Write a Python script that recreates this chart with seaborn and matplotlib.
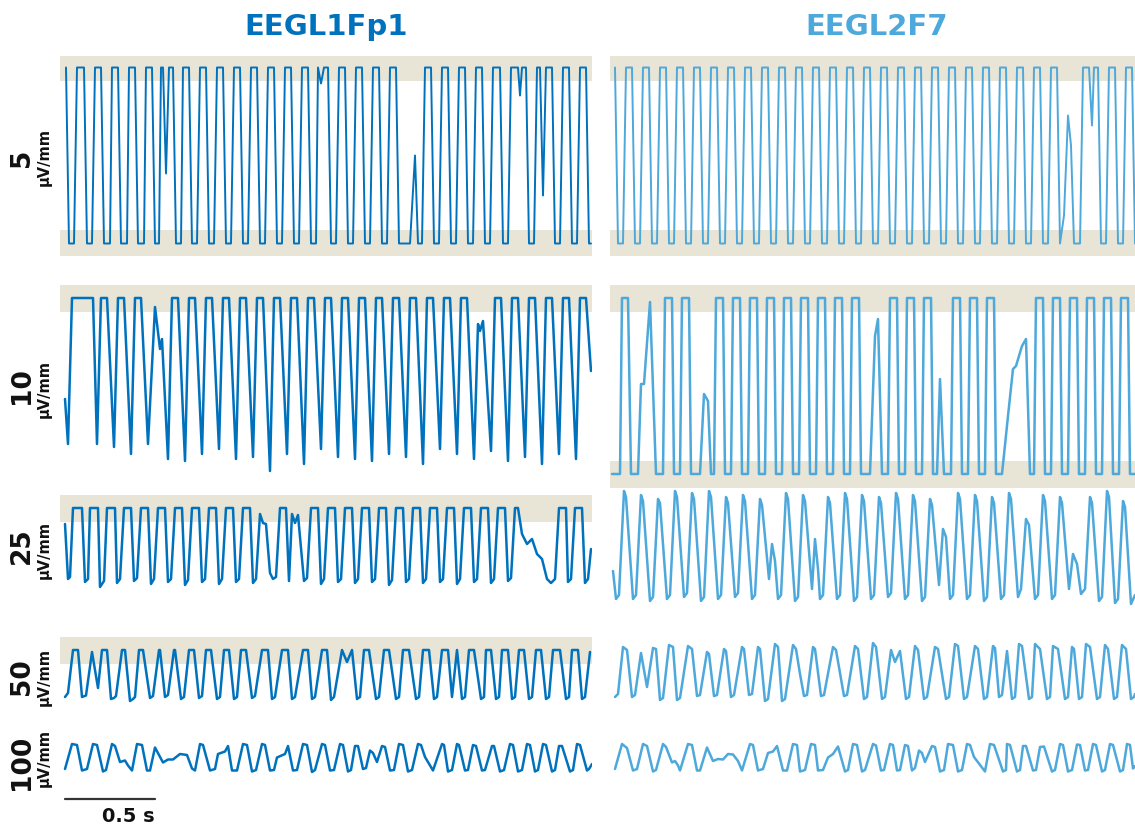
import numpy as np
import pandas as pd
import matplotlib
matplotlib.use("Agg")
import matplotlib.pyplot as plt
import seaborn as sns

# EEG traces of two channels shown at five sensitivities (each row is its own epoch)
# every trace is a list of (sample index, microvolts) vertices, sampled at FS Hz
FS = 180
channels = ["EEGL1Fp1", "EEGL2F7"]
colors = ["#0072BD", "#4DA8DB"]
scales = [5, 10, 25, 50, 100]  # uV/mm

fp1_5 = [(6, 88), (9, -88), (14, -88), (17, 88), (24, 88), (27, -88), (32, -88), (35, 88), (41, 88), (44, -88),
         (50, -88), (52, 88), (58, 88), (61, -88), (67, -88), (69, 88), (75, 88), (78, -88), (84, -88), (86, 88),
         (92, 88), (95, -88), (99, -88), (101, 88), (103, 88), (106, -18), (109, 88), (113, 88), (116, -88),
         (121, -88), (123, 88), (129, 88), (132, -88), (137, -88), (140, 88), (146, 88), (149, -88), (154, -88),
         (157, 88), (163, 88), (166, -88), (171, -88), (174, 88), (180, 88), (183, -88), (188, -88), (191, 88),
         (197, 88), (200, -88), (205, -88), (208, 88), (214, 88), (217, -88), (222, -88), (225, 88), (231, 88),
         (234, -88), (239, -88), (242, 88), (248, 88), (251, -88), (256, -88), (258, 88), (261, 72), (264, 88),
         (268, 88), (271, -88), (276, -88), (279, 88), (285, 88), (288, -88), (293, -88), (296, 88), (302, 88),
         (305, -88), (310, -88), (313, 88), (319, 88), (322, -88), (327, -88), (330, 88), (336, 88), (339, -88),
         (350, -88), (355, 0), (358, -88), (362, -88), (365, 88), (371, 88), (374, -88), (379, -88), (382, 88),
         (388, 88), (391, -88), (396, -88), (399, 88), (405, 88), (408, -88), (413, -88), (416, 88), (422, 88),
         (425, -88), (430, -88), (433, 88), (440, 88), (443, -88), (448, -88), (451, 88), (458, 88), (460, 60),
         (462, 88), (466, 88), (469, -88), (474, -88), (477, 88), (480, 88), (483, -40), (486, 88), (492, 88),
         (495, -88), (500, -88), (503, 88), (509, 88), (512, -88), (517, -88), (520, 88), (526, 88), (529, -88),
         (531, -88)]
f7_5 = [(5, 88), (8, -88), (13, -88), (16, 88), (22, 88), (25, -88), (30, -88), (33, 88), (39, 88), (42, -88),
        (47, -88), (50, 88), (56, 88), (59, -88), (64, -88), (67, 88), (73, 88), (76, -88), (81, -88), (84, 88),
        (90, 88), (93, -88), (98, -88), (101, 88), (107, 88), (110, -88), (115, -88), (118, 88), (124, 88),
        (127, -88), (132, -88), (135, 88), (141, 88), (144, -88), (149, -88), (152, 88), (158, 88), (161, -88),
        (166, -88), (169, 88), (175, 88), (178, -88), (183, -88), (186, 88), (192, 88), (195, -88), (200, -88),
        (203, 88), (209, 88), (212, -88), (217, -88), (220, 88), (226, 88), (229, -88), (234, -88), (237, 88),
        (243, 88), (246, -88), (251, -88), (254, 88), (260, 88), (263, -88), (268, -88), (271, 88), (277, 88),
        (280, -88), (285, -88), (288, 88), (294, 88), (297, -88), (302, -88), (305, 88), (311, 88), (314, -88),
        (319, -88), (322, 88), (328, 88), (331, -88), (336, -88), (339, 88), (345, 88), (348, -88), (353, -88),
        (356, 88), (362, 88), (365, -88), (370, -88), (373, 88), (379, 88), (382, -88), (387, -88), (390, 88),
        (396, 88), (399, -88), (404, -88), (407, 88), (413, 88), (416, -88), (421, -88), (424, 88), (430, 88),
        (433, -88), (438, -88), (441, 88), (447, 88), (450, -88), (454, -60), (458, 40), (461, 10), (464, -88),
        (470, -88), (473, 88), (479, 88), (482, 30), (484, 88), (488, 88), (491, -88), (496, -88), (499, 88),
        (505, 88), (508, -88), (513, -88), (516, 88), (522, 88), (525, -88)]

fp1_10 = [(5, -26), (8, -116), (12, 176), (33, 176), (37, -116), (41, 176), (47, 176), (54, -122), (58, 176),
          (64, 176), (71, -136), (75, 176), (81, 176), (88, -116), (95, 158), (100, 74), (102, 94), (108, -146),
          (112, 176), (118, 176), (125, -150), (129, 176), (135, 176), (142, -136), (146, 176), (152, 176),
          (159, -126), (163, 176), (169, 176), (176, -146), (180, 176), (186, 176), (193, -142), (197, 176),
          (203, 176), (210, -170), (214, 176), (220, 176), (227, -136), (231, 176), (237, 176), (244, -156),
          (248, 176), (254, 176), (261, -126), (265, 176), (271, 176), (278, -142), (282, 176), (288, 176),
          (295, -146), (299, 176), (305, 176), (312, -150), (316, 176), (322, 176), (329, -136), (333, 176),
          (339, 176), (346, -142), (350, 176), (356, 176), (363, -156), (367, 176), (373, 176), (380, -126),
          (384, 176), (390, 176), (397, -136), (401, 176), (407, 176), (414, -146), (418, 124), (420, 110),
          (423, 130), (431, -130), (435, 176), (441, 176), (448, -150), (452, 176), (458, 176), (465, -142),
          (469, 176), (475, 176), (482, -156), (486, 176), (492, 176), (499, -136), (503, 176), (509, 176),
          (516, -146), (520, 176), (526, 176), (531, 30)]
f7_10 = [(2, -176), (10, -176), (12, 176), (18, 176), (21, -176), (28, -176), (31, 4), (34, 4), (40, 168),
         (46, -176), (53, -176), (55, 176), (62, 176), (64, -176), (70, -176), (72, 176), (79, 176), (81, -176),
         (90, -176), (94, -16), (98, -30), (101, -176), (104, -176), (106, 176), (113, 176), (115, -176),
         (121, -176), (123, 176), (130, 176), (132, -176), (138, -176), (140, 176), (147, 176), (149, -176),
         (155, -176), (157, 176), (164, 176), (166, -176), (172, -176), (174, 176), (181, 176), (183, -176),
         (189, -176), (191, 176), (198, 176), (200, -176), (206, -176), (208, 176), (215, 176), (217, -176),
         (223, -176), (225, 176), (232, 176), (234, -176), (240, -176), (242, 176), (249, 176), (251, -176),
         (260, -176), (265, 100), (268, 134), (272, -176), (278, -176), (280, 176), (287, 176), (289, -176),
         (295, -176), (297, 176), (304, 176), (306, -176), (312, -176), (314, 176), (321, 176), (323, -176),
         (327, -176), (330, 14), (334, -176), (341, -176), (343, 176), (350, 176), (352, -176), (358, -176),
         (360, 176), (367, 176), (369, -176), (375, -176), (377, 176), (384, 176), (386, -176), (392, -176),
         (398, -60), (403, 34), (406, 40), (412, 80), (416, 94), (420, -176), (424, -176), (426, 176),
         (433, 176), (435, -176), (441, -176), (443, 176), (450, 176), (452, -176), (458, -176), (460, 176),
         (467, 176), (469, -176), (475, -176), (477, 176), (484, 176), (486, -176), (492, -176), (494, 176),
         (501, 176), (503, -176), (509, -176), (511, 176), (518, 176), (520, -176), (525, -176)]

fp1_25 = [(5, 125), (8, -150), (10, -140), (13, 205), (22, 205), (25, -165), (28, -150), (30, 205), (38, 205),
          (40, -190), (44, -160), (47, 205), (55, 205), (57, -170), (60, -150), (64, 205), (71, 205), (74, -160),
          (77, -145), (81, 205), (88, 205), (91, -175), (94, -150), (98, 205), (105, 205), (108, -165),
          (111, -150), (115, 205), (122, 205), (125, -180), (128, -155), (132, 205), (139, 205), (142, -165),
          (145, -150), (149, 205), (156, 205), (159, -175), (162, -150), (166, 205), (173, 205), (176, -165),
          (179, -150), (183, 205), (190, 205), (193, -170), (196, -150), (200, 175), (203, 130), (206, 125),
          (210, -120), (213, -150), (216, -140), (220, 205), (226, 205), (229, -160), (232, 175), (235, 130),
          (238, 170), (244, -160), (247, -145), (251, 205), (258, 205), (261, -175), (264, -150), (268, 205),
          (275, 205), (278, -165), (281, -150), (285, 205), (292, 205), (295, -170), (298, -150), (302, 205),
          (309, 205), (312, -165), (315, -150), (319, 205), (326, 205), (329, -180), (332, -155), (336, 205),
          (343, 205), (346, -165), (349, -150), (353, 205), (360, 205), (363, -170), (366, -150), (370, 205),
          (377, 205), (380, -165), (383, -150), (387, 205), (394, 205), (397, -175), (400, -150), (404, 205),
          (411, 205), (414, -165), (417, -150), (421, 205), (428, 205), (431, -170), (434, -150), (438, 205),
          (445, 205), (448, -160), (451, -145), (455, 205), (458, 205), (462, 75), (467, 25), (472, 50),
          (477, -25), (482, -50), (487, -150), (491, -170), (495, -150), (499, 205), (506, 205), (508, -165),
          (511, -150), (515, 205), (522, 205), (525, -170), (528, -150), (531, 0)]
f7_25 = [(3, -110), (6, -250), (9, -230), (14, 290), (16, 260), (23, -250), (26, -230), (31, 270), (33, 240),
         (40, -260), (43, -240), (48, 250), (50, 230), (57, -250), (60, -230), (65, 290), (67, 260), (74, -240),
         (77, -220), (82, 280), (84, 250), (91, -260), (94, -240), (99, 290), (101, 260), (108, -250), (111, -230),
         (116, 260), (118, 230), (125, -240), (128, -220), (133, 270), (135, 240), (142, -250), (145, -230),
         (150, 250), (152, 220), (159, -150), (162, 25), (165, -60), (168, -250), (171, -230), (176, 280),
         (178, 250), (185, -260), (188, -240), (193, 270), (195, 240), (202, -200), (205, 50), (208, -100),
         (210, -250), (213, -230), (218, 260), (220, 230), (227, -250), (230, -230), (235, 280), (237, 250),
         (244, -260), (247, -240), (252, 270), (254, 240), (261, -250), (264, -230), (269, 260), (271, 230),
         (278, -240), (281, -220), (286, 280), (288, 250), (295, -250), (298, -230), (303, 270), (305, 240),
         (312, -260), (315, -240), (320, 250), (322, 220), (329, -180), (333, 100), (336, 60), (340, -250),
         (343, -230), (348, 280), (350, 250), (357, -250), (360, -230), (365, 270), (367, 240), (374, -260),
         (377, -240), (382, 260), (384, 230), (391, -250), (394, -230), (399, 280), (401, 250), (408, -240),
         (411, -200), (416, 150), (419, 120), (425, -250), (428, -230), (433, 270), (435, 240), (442, -250),
         (445, -230), (450, 260), (452, 230), (459, -200), (463, -25), (467, -75), (471, -225), (475, -200),
         (480, 260), (482, 230), (489, -260), (492, -240), (497, 290), (499, 260), (505, -270), (508, -250),
         (513, 240), (515, 210), (521, -275), (525, -230)]

fp1_50 = [(5, -230), (8, -190), (13, 240), (18, 240), (22, -230), (26, -215), (32, 220), (38, -140), (42, 240),
          (47, 240), (51, -250), (54, -240), (56, -220), (62, 240), (65, 240), (70, -270), (73, -250), (75, -230),
          (79, 240), (83, 240), (90, -240), (93, -220), (99, 240), (100, 240), (105, -230), (108, -210),
          (114, 240), (115, 240), (121, -250), (124, -230), (129, 240), (134, 240), (139, -240), (142, -220),
          (146, 240), (151, 240), (157, -250), (160, -230), (164, 240), (169, 240), (174, -250), (177, -230),
          (181, 240), (186, 240), (192, -240), (195, -220), (202, 240), (208, 240), (212, -250), (215, -230),
          (222, 240), (228, 240), (232, -250), (235, -230), (243, 240), (248, 240), (252, -250), (255, -230),
          (262, 240), (267, 240), (271, -260), (274, -230), (282, 240), (287, 120), (292, 240), (297, -250),
          (300, -230), (304, 240), (309, 240), (316, -250), (319, -230), (324, 240), (329, 240), (336, -250),
          (339, -230), (343, 240), (349, 240), (356, -250), (359, -230), (363, 240), (369, 240), (374, -250),
          (377, -230), (382, 240), (388, 240), (392, -230), (397, 240), (402, -250), (405, -230), (409, 240),
          (414, 240), (421, -250), (424, -230), (426, 240), (431, 240), (436, -250), (439, -230), (442, 240),
          (448, 240), (452, -250), (455, -230), (459, 240), (464, 240), (469, -250), (472, -230), (476, 240),
          (481, 240), (486, -250), (489, -230), (493, 240), (500, 240), (506, -250), (509, -230), (512, 240),
          (518, 240), (522, -250), (525, -230), (530, 220)]
f7_50 = [(5, -230), (8, -200), (13, 270), (17, 240), (22, -230), (25, -210), (31, 210), (37, -130), (43, 260),
         (46, 250), (50, -260), (53, -240), (59, 290), (63, 270), (67, -260), (70, -240), (78, 280), (82, 250),
         (87, -220), (90, -210), (97, 220), (99, 200), (104, -220), (107, -210), (114, 250), (116, 230),
         (121, -230), (124, -210), (132, 270), (134, 250), (139, -210), (142, -200), (148, 270), (150, 250),
         (155, -270), (158, -250), (165, 300), (168, 270), (172, -270), (175, -250), (183, 290), (186, 250),
         (190, 0), (194, -220), (197, -210), (203, 270), (205, 250), (211, -220), (214, -210), (223, 270),
         (226, 240), (234, -220), (237, -210), (245, 280), (248, 250), (254, -250), (257, -230), (263, 310),
         (266, 270), (272, -250), (275, -230), (281, 240), (285, 120), (290, 230), (296, -250), (299, -230),
         (305, 280), (308, 240), (314, -250), (317, -230), (325, 270), (328, 250), (336, -250), (339, -230),
         (345, 300), (348, 280), (354, -250), (357, -230), (365, 280), (368, 250), (374, -250), (377, -230),
         (383, 280), (385, 260), (389, -230), (392, -210), (397, 230), (402, -250), (405, -230), (409, 300),
         (412, 280), (419, -250), (422, -230), (425, 300), (430, 250), (437, -250), (440, -230), (443, 280),
         (448, 250), (455, -250), (458, -230), (462, 270), (464, 250), (469, -250), (472, -230), (476, 300),
         (480, 270), (487, -250), (490, -230), (495, 290), (498, 250), (504, -250), (507, -230), (512, 290),
         (516, 250), (521, -250), (524, -230), (525, -200)]

fp1_100 = [(5, -260), (12, 240), (17, 220), (22, -290), (27, -260), (33, 240), (37, 220), (43, -310), (46, -280),
           (52, 240), (55, 200), (60, -120), (65, -90), (68, -190), (72, -290), (77, 240), (82, 220), (87, -290),
           (90, -290), (95, 170), (103, -130), (108, -70), (113, -70), (120, 40), (127, 20), (132, -250),
           (135, -290), (140, 240), (143, 220), (150, -290), (155, -260), (158, 40), (165, 90), (168, 200),
           (172, -290), (177, -290), (183, 240), (187, 220), (192, -310), (196, -280), (202, 240), (205, 220),
           (210, -290), (214, -280), (217, -30), (225, 40), (228, 200), (233, -290), (237, -280), (243, 240),
           (247, 220), (252, -320), (255, -280), (262, 240), (265, 220), (270, -290), (274, -280), (280, 240),
           (283, 220), (288, -310), (291, -280), (295, 200), (298, 200), (303, -260), (306, -240), (310, 110),
           (313, 60), (317, -120), (322, 200), (325, 180), (330, -290), (334, -280), (339, 240), (343, 220),
           (348, -310), (352, -280), (358, 240), (361, 220), (365, -20), (373, -290), (382, 240), (384, 220),
           (388, -310), (392, -280), (397, 240), (399, 220), (405, -290), (408, -280), (413, 220), (416, 200),
           (422, -290), (425, -280), (432, 200), (434, 200), (440, -310), (444, -280), (450, 240), (453, 220),
           (458, -310), (462, -280), (467, 240), (470, 220), (475, -310), (478, -280), (483, 240), (486, 220),
           (492, -310), (495, -280), (499, 200), (502, 200), (510, -310), (513, -280), (517, 240), (520, 220),
           (527, -290), (529, -260), (532, -160)]
f7_100 = [(5, -260), (12, 240), (17, 160), (23, -290), (27, -260), (33, 240), (37, 200), (43, -310), (46, -280),
          (53, 240), (56, 180), (62, -130), (65, -100), (68, -190), (70, -290), (78, 240), (82, 220), (87, -290),
          (90, -290), (97, 170), (103, -100), (108, -60), (113, -70), (118, 40), (123, 30), (128, -100),
          (132, -290), (140, 240), (143, 220), (148, -290), (153, -260), (158, 60), (163, 90), (167, 200),
          (173, -290), (177, -290), (183, 240), (187, 220), (190, -310), (195, -280), (201, 240), (205, 220),
          (208, -290), (213, -280), (218, -30), (223, 40), (228, 190), (235, -310), (238, -280), (243, 240),
          (247, 220), (252, -310), (255, -280), (263, 240), (266, 210), (271, -290), (274, -280), (280, 240),
          (283, 220), (287, -290), (290, -280), (295, 220), (298, 200), (302, -290), (305, -240), (309, 110),
          (312, 60), (315, -120), (322, 200), (325, 180), (330, -310), (334, -280), (338, 240), (343, 220),
          (348, -310), (352, -280), (357, 240), (360, 220), (364, -20), (375, -310), (380, 240), (384, 220),
          (393, -310), (396, -280), (397, 240), (400, 220), (407, -310), (410, -280), (413, 200), (416, 200),
          (423, -290), (426, -280), (430, 180), (434, 190), (442, -310), (445, -280), (450, 240), (453, 220),
          (458, -310), (462, -280), (467, 230), (470, 220), (475, -290), (478, -280), (483, 240), (486, 220),
          (492, -310), (495, -280), (500, 240), (503, 220), (510, -310), (513, -280), (517, 240), (520, 220),
          (523, -250), (525, -200)]

traces = [[fp1_5, f7_5], [fp1_10, f7_10], [fp1_25, f7_25], [fp1_50, f7_50], [fp1_100, f7_100]]
# display clipping (uV) per row and channel: (upper, lower), None where the trace is not clipped
clips = [[(88, -88), (88, -88)],
         [(176, None), (176, -176)],
         [(205, None), (None, None)],
         [(240, None), (None, None)],
         [(None, None), (None, None)]]

W, H = 1135, 829
PX_PER_MM = 5.0
BAND_MM = 2.7
BEIGE = "#E8E4D6"
# row frames in reference pixels: top, bottom, trace baseline
rows = [(57, 257, 156.5), (283, 490, 387), (490, 612, 550), (632, 706, 675), (736, 780, 757)]
col_x = [60, 610]
PANEL_W = 532

sns.set_theme(style="white")
plt.rcParams['font.family'] = ['DejaVu Sans']
fig = plt.figure(figsize=(W / 100, H / 100), dpi=100)

axes = {}
for r, (top, bot, base) in enumerate(rows):
    k = scales[r] / PX_PER_MM
    for c in range(2):
        ax = fig.add_axes([col_x[c] / W, 1 - bot / H, PANEL_W / W, (bot - top) / H])
        half = BAND_MM * scales[r]
        for lim in clips[r][c]:
            if lim is not None:
                ax.axhspan(lim - half, lim + half, color=BEIGE, lw=0, zorder=0)
        df = pd.DataFrame(traces[r][c], columns=["n", "uV"])
        df["t"] = df["n"] / FS
        sns.lineplot(data=df, x="t", y="uV", ax=ax, color=colors[c], sort=False, estimator=None,
                     linewidth=1.4 if r == 0 else 1.8, zorder=2)
        ax.set_xlim(0, PANEL_W / FS)
        ax.set_ylim((base - bot) * k, (base - top) * k)
        ax.axis("off")
        axes[(r, c)] = ax

# channel titles
fig.text(326 / W, 1 - 27 / H, channels[0], ha="center", va="center", fontsize=21, fontweight="bold", color=colors[0])
fig.text(877 / W, 1 - 27 / H, channels[1], ha="center", va="center", fontsize=21, fontweight="bold", color=colors[1])

# sensitivity labels
label_y = [158, 386, 546, 677, 762]
unit_y = [157, 389, 550, 677, 758]
for r in range(5):
    fig.text(22 / W, 1 - label_y[r] / H, str(scales[r]), rotation=90, ha="center", va="center",
             fontsize=19, fontweight="bold", color="#111111")
    fig.text(44 / W, 1 - unit_y[r] / H, "µV/mm", rotation=90, ha="center", va="center",
             fontsize=10.5, fontweight="bold", color="#111111")

# time scale bar: 0.5 s
ax = axes[(4, 0)]
t0 = 5 / FS
ax.plot([t0, t0 + 0.5], [-0.45, -0.45], color="#333333", lw=1.6, transform=ax.get_xaxis_transform(), clip_on=False)
ax.text(t0 + 0.5, -0.84, "0.5 s", transform=ax.get_xaxis_transform(), ha="right", va="center",
        fontsize=14, fontweight="bold", color="#111111")

fig.savefig("out.png", dpi=100)
